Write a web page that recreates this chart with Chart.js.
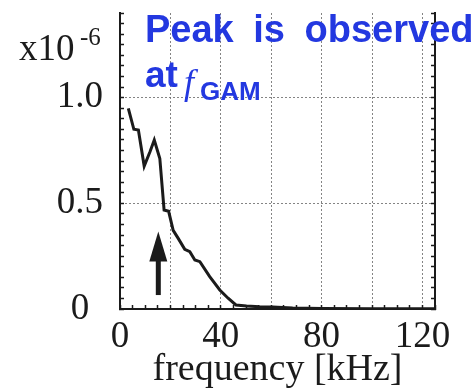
<!DOCTYPE html>
<html>
<head>
<meta charset="utf-8">
<script src="https://cdn.jsdelivr.net/npm/chart.js@4.4.1/dist/chart.umd.min.js"></script>
<style>
  html, body { margin: 0; padding: 0; background: #fff; }
  #wrap { position: relative; width: 475px; height: 390px; overflow: hidden; }
  .note { position: absolute; line-height: 1; white-space: nowrap; }
  .blue { color: #2338e0; font-family: "Liberation Sans", Arial, sans-serif; font-weight: bold; }
  .serif { color: #1b1b1b; font-family: "Liberation Serif", "Times New Roman", serif; }
</style>
</head>
<body>
<div id="wrap">
  <canvas id="chart" width="475" height="390"></canvas>
  <div class="note serif" style="left:19px; top:29px; font-size:37px;">x10</div>
  <div class="note serif" style="left:80px; top:24px; font-size:25px;">-6</div>
  <div class="note blue" style="left:145px; top:10px; font-size:38px; word-spacing:9px;">Peak is observed</div>
  <div class="note blue" style="left:145px; top:56px; font-size:37px;">at</div>
  <div class="note" style="left:184px; top:61px; font: italic 36px 'Liberation Serif', serif; color:#2338e0;">f</div>
  <div class="note blue" style="left:200px; top:78px; font-size:26px;">GAM</div>
</div>
<script>
// spectrum (power in units of 1e-6)
const freqKHz = [3.3, 5.5, 7.3, 9.6, 11.9, 13.6, 15.8, 17.5, 19.3, 21.1, 23.1, 25.7, 27.7, 29.7, 31.7, 35.6, 39.6, 42.9, 46.0, 50.2, 55.4, 60.6, 68.5, 80, 100, 125];
const power = [0.949, 0.850, 0.846, 0.676, 0.744, 0.799, 0.712, 0.468, 0.462, 0.372, 0.334, 0.282, 0.271, 0.232, 0.224, 0.153, 0.090, 0.051, 0.019, 0.014, 0.011, 0.010, 0.005, 0.002, 0.001, 0.001];

const xTickLabels = [0, 40, 80, 120];
const yTickLabels = [0, 0.5, 1.0];
const xGridLines = [20, 40, 60, 80, 100, 120];
const yGridLines = [0.5, 1.0];

// f_GAM arrow (kHz, and the y range it spans)
const arrowFreq = 15.2;
const arrowTop = 0.366;
const arrowBottom = 0.066;

const ink = '#1b1b1b';
const gridGrey = 'rgba(110,110,110,0.85)';
const serif = "'Liberation Serif', 'Times New Roman', serif";

const near = (a, b) => Math.abs(a - b) < 1e-6;
const onList = (list) => (c) => (c.tick && list.some(v => near(v, c.tick.value))) ? gridGrey : 'rgba(0,0,0,0)';

// keep the plot box fixed, no extra room for half-labels
const noPad = s => { s.paddingTop = 0; s.paddingBottom = 0; s.paddingLeft = 0; s.paddingRight = 0; };

const arrowPlugin = {
  id: 'fgamArrow',
  afterDatasetsDraw(chart) {
    const { ctx, scales: { x, y } } = chart;
    const px = x.getPixelForValue(arrowFreq);
    const yTip = y.getPixelForValue(arrowTop);
    const yBase = y.getPixelForValue(arrowBottom);
    const headLen = 30;
    ctx.save();
    ctx.fillStyle = ink;
    ctx.fillRect(px - 2.5, yTip + headLen - 2, 5, yBase - yTip - headLen + 2);
    ctx.beginPath();
    ctx.moveTo(px, yTip);
    ctx.lineTo(px - 9, yTip + headLen);
    ctx.lineTo(px + 9, yTip + headLen);
    ctx.closePath();
    ctx.fill();
    ctx.restore();
  }
};

new Chart(document.getElementById('chart'), {
  type: 'line',
  data: {
    datasets: [{
      data: freqKHz.map((f, i) => ({ x: f, y: power[i] })),
      borderColor: ink,
      borderWidth: 3,
      pointRadius: 0,
      tension: 0,
      fill: false
    }]
  },
  options: {
    responsive: false,
    animation: false,
    layout: { padding: { top: 13, left: 0, right: 0, bottom: 0 } },
    plugins: { legend: { display: false }, tooltip: { enabled: false } },
    scales: {
      x: {
        type: 'linear', min: 0, max: 125,
        afterFit: s => { s.height = 81; noPad(s); },
        ticks: {
          stepSize: 5, autoSkip: false, maxRotation: 0, padding: 10, color: ink,
          font: { family: serif, size: 37 },
          callback: v => xTickLabels.some(t => near(t, v)) ? String(v) : ''
        },
        grid: { color: onList(xGridLines), lineWidth: 1, tickLength: -4, tickColor: ink, tickWidth: 1.5 },
        border: { display: true, color: ink, width: 2, dash: [2, 2] },
        title: {
          display: true, text: 'frequency [kHz]', color: ink,
          font: { family: serif, size: 38, lineHeight: 1 },
          padding: { top: 0, bottom: 1 }
        }
      },
      y: {
        min: 0, max: 1.4,
        afterFit: s => { s.width = 120; noPad(s); },
        ticks: {
          stepSize: 0.05, autoSkip: false, crossAlign: 'center', padding: 21, color: ink,
          font: { family: serif, size: 37 },
          callback: v => {
            const t = yTickLabels.find(l => near(l, v));
            if (t === undefined) return '';
            return t === 0 ? '0' : t.toFixed(1);
          }
        },
        grid: { color: onList(yGridLines), lineWidth: 1, tickLength: -4, tickColor: ink, tickWidth: 1.5 },
        border: { display: true, color: ink, width: 2, dash: [2, 2] }
      },
      y2: {
        position: 'right', min: 0, max: 1.4,
        afterFit: s => { s.width = 40; noPad(s); },
        ticks: { display: false, stepSize: 0.05, autoSkip: false },
        grid: { drawOnChartArea: false, tickLength: -4, tickColor: ink, tickWidth: 1.5 },
        border: { display: true, color: ink, width: 2 }
      }
    }
  },
  plugins: [arrowPlugin]
});
</script>
</body>
</html>
